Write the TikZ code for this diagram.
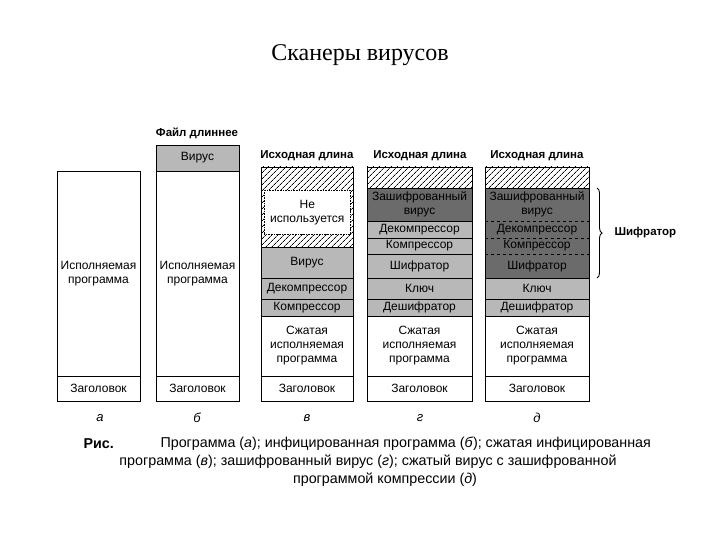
\documentclass[tikz,border=0pt]{standalone}
\usepackage{fontspec}
\setmainfont{Liberation Sans}
\newfontfamily\titlefont{Liberation Serif}
\usetikzlibrary{patterns.meta,decorations.pathreplacing}
\definecolor{lightst}{gray}{0.72}
\definecolor{darkst}{gray}{0.42}
\newcommand\mkblk[7]{\node[blk,#6,minimum width=#4pt,minimum height=#5pt] (#1) at (#2,#3) {#7};}
\begin{document}
\begin{tikzpicture}[x=1pt,y=-1pt,
  blk/.style={draw, line width=0.9pt, inner sep=0pt, outer sep=0pt, anchor=north west,
    align=center, font=\fontsize{12}{14}\selectfont},
  light/.style={fill=lightst},
  dark/.style={fill=darkst},
  hatch/.style={pattern={Lines[angle=45,distance=4pt,line width=0.7pt]}},
  plain/.style={draw=none},
  unused/.style={draw, densely dotted, fill=white, line width=0.6pt},
  toplabel/.style={font=\bfseries\fontsize{11.5}{13}\selectfont},
  letter/.style={font=\itshape\fontsize{13}{15}\selectfont},
  capt/.style={font=\fontsize{14.3}{16}\selectfont}
]
\useasboundingbox[fill=white] (0,0) rectangle (720,540);
\node[font=\titlefont\fontsize{24}{28}\selectfont] (title) at (360,55) {Сканеры вирусов};

% column a
\mkblk{aexe}{57}{171}{83}{205}{}{Исполняемая\\программа}
\mkblk{ahdr}{57}{376}{83}{25}{}{Заголовок}

% column b
\node[toplabel] (blabel) at (197,133) {Файл длиннее};
\mkblk{bvir}{156}{145}{83}{26}{light}{Вирус}
\mkblk{bexe}{156}{171}{83}{205}{}{Исполняемая\\программа}
\mkblk{bhdr}{156}{376}{83}{25}{}{Заголовок}

% column v
\node[toplabel] (vlabel) at (307,156) {Исходная длина};
\mkblk{vhatch}{261}{167}{92}{80}{hatch}{}
\node[unused, inner sep=0pt, anchor=north west, minimum width=86pt, minimum height=44pt,
  align=center, font=\fontsize{12}{14}\selectfont] (vunused) at (264,190) {Не\\используется};
\mkblk{vvir}{261}{247}{92}{31}{light}{Вирус}
\mkblk{vdec}{261}{278}{92}{21}{light}{Декомпрессор}
\mkblk{vcomp}{261}{299}{92}{17}{light}{Компрессор}
\mkblk{vcmp}{261}{316}{92}{60}{}{Сжатая\\исполняемая\\программа}
\mkblk{vhdr}{261}{376}{92}{25}{}{Заголовок}

% column g
\node[toplabel] (glabel) at (420,156) {Исходная длина};
\mkblk{ghatch}{367}{167}{105}{21}{hatch}{}
\mkblk{genc}{367}{188}{105}{33}{dark}{Зашифрованный\\вирус}
\mkblk{gdec}{367}{221}{105}{17}{light}{Декомпрессор}
\mkblk{gcomp}{367}{238}{105}{16}{light}{Компрессор}
\mkblk{gshif}{367}{254}{105}{24}{light}{Шифратор}
\mkblk{gkey}{367}{278}{105}{21}{light}{Ключ}
\mkblk{gdecr}{367}{299}{105}{17}{light}{Дешифратор}
\mkblk{gcmp}{367}{316}{105}{60}{}{Сжатая\\исполняемая\\программа}
\mkblk{ghdr}{367}{376}{105}{25}{}{Заголовок}

% column d
\node[toplabel] (dlabel) at (537,156) {Исходная длина};
\mkblk{dhatch}{485}{167}{104}{21}{hatch}{}
\mkblk{ddark}{485}{188}{104}{90}{dark}{}
\mkblk{denc}{485}{188}{104}{33}{plain}{Зашифрованный\\вирус}
\mkblk{ddec}{485}{221}{104}{17}{plain}{Декомпрессор}
\mkblk{dcomp}{485}{238}{104}{16}{plain}{Компрессор}
\mkblk{dshif}{485}{254}{104}{24}{plain}{Шифратор}
\draw[dashed, line width=0.6pt] (denc.south west) -- (denc.south east);
\draw[dashed, line width=0.6pt] (ddec.south west) -- (ddec.south east);
\draw[dashed, line width=0.6pt] (dcomp.south west) -- (dcomp.south east);
\mkblk{dkey}{485}{278}{104}{21}{light}{Ключ}
\mkblk{ddecr}{485}{299}{104}{17}{light}{Дешифратор}
\mkblk{dcmp}{485}{316}{104}{60}{}{Сжатая\\исполняемая\\программа}
\mkblk{dhdr}{485}{376}{104}{25}{}{Заголовок}

\draw[decorate, decoration={brace, amplitude=5pt}, line width=0.9pt]
  ([xshift=8pt]ddark.north east) -- ([xshift=8pt]ddark.south east);
\node[toplabel, anchor=west] (shlabel) at (611,233) {Шифратор};

% letters
\node[letter] (la) at (100,418) {а};
\node[letter] (lb) at (197,418) {б};
\node[letter] (lv) at (307,418) {в};
\node[letter] (lg) at (420,418) {г};
\node[letter] (ld) at (537,418) {д};

% caption
\node[capt, font=\bfseries\fontsize{14.3}{16}\selectfont, anchor=west] (ris) at (80,444) {Рис.};
\node[capt, anchor=west] (cap1) at (157,444) {Программа (\textit{а}); инфицированная программа (\textit{б}); сжатая инфицированная};
\node[capt] (cap2) at (368,462) {программа (\textit{в}); зашифрованный вирус (\textit{г}); сжатый вирус с зашифрованной};
\node[capt] (cap3) at (385,480) {программой компрессии (\textit{д})};
\end{tikzpicture}
\end{document}
